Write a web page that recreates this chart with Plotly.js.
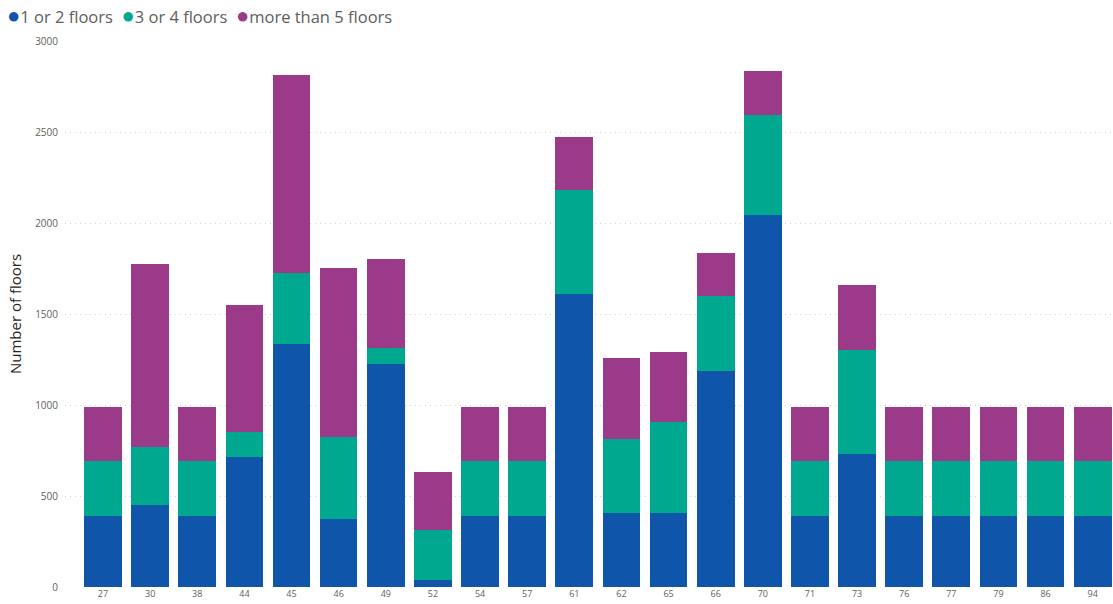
<!DOCTYPE html>
<html>
<head>
<meta charset="utf-8">
<script src="https://cdn.plot.ly/plotly-3.0.1.min.js"></script>
<style>
  html, body { margin: 0; padding: 0; background: #ffffff; }
  #chart { width: 1113px; height: 604px; }
</style>
</head>
<body>
<div id="chart"></div>
<script>
// Categories along the x axis
const categories = ['27','30','38','44','45','46','49','52','54','57','61','62','65','66','70','71','73','76','77','79','86','94'];

// Stacked segment values per category
const lowRise  = [388, 453, 388, 715, 1335, 376, 1223,  36, 388, 388, 1610, 408, 408, 1185, 2046, 388, 733, 388, 388, 388, 388, 388];
const midRise  = [304, 318, 304, 135,  392, 448,   88, 278, 304, 304,  573, 407, 497,  414,  547, 304, 571, 304, 304, 304, 304, 304];
const highRise = [295,1004, 295, 701, 1084, 929,  491, 317, 295, 295,  290, 443, 384,  234,  244, 295, 355, 295, 295, 295, 295, 295];

const seriesNames  = ['1 or 2 floors', '3 or 4 floors', 'more than 5 floors'];
const seriesColors = ['#0F55A9', '#01A890', '#9B3A89'];
const seriesValues = [lowRise, midRise, highRise];

const yTitle = 'Number of floors';

const traces = seriesValues.map((vals, i) => ({
  type: 'bar',
  name: seriesNames[i],
  x: categories,
  y: vals,
  marker: { color: seriesColors[i], line: { width: 0 } },
  showlegend: false,
  hoverinfo: 'x+y+name'
}));

// Legend row: coloured dot followed by the series name
const legendText = seriesNames.map((n, i) =>
  '<span style="color:' + seriesColors[i] + ';font-size:22px">\u25CF</span>' + n
).join('  ');

const layout = {
  width: 1113,
  height: 604,
  margin: { l: 65, r: 0, t: 41, b: 17 },
  paper_bgcolor: '#ffffff',
  plot_bgcolor: '#ffffff',
  barmode: 'stack',
  bargap: 0.2,
  font: { family: 'Open Sans, Noto Sans, sans-serif', color: '#605E5C' },
  xaxis: {
    type: 'category',
    range: [-0.806, 21.43],
    showgrid: false,
    zeroline: false,
    showline: false,
    ticks: '',
    tickfont: { size: 9, color: '#605E5C' },
    fixedrange: true
  },
  yaxis: {
    range: [0, 3000],
    tick0: 0,
    dtick: 500,
    showgrid: true,
    gridcolor: '#D2D2D2',
    griddash: '1px,4px',
    gridwidth: 1,
    zeroline: false,
    showline: false,
    ticks: '',
    ticklabelstandoff: 6,
    tickfont: { size: 10, color: '#605E5C' },
    title: { text: yTitle, font: { size: 15, color: '#252423' }, standoff: 9 },
    automargin: false,
    fixedrange: true
  },
  annotations: [{
    xref: 'paper', yref: 'paper',
    x: -0.057, y: 1.0,
    xanchor: 'left', yanchor: 'bottom',
    yshift: 10,
    showarrow: false,
    text: legendText,
    font: { size: 16.5, color: '#605E5C' }
  }]
};

Plotly.newPlot('chart', traces, layout, { displayModeBar: false, staticPlot: true });
</script>
</body>
</html>
